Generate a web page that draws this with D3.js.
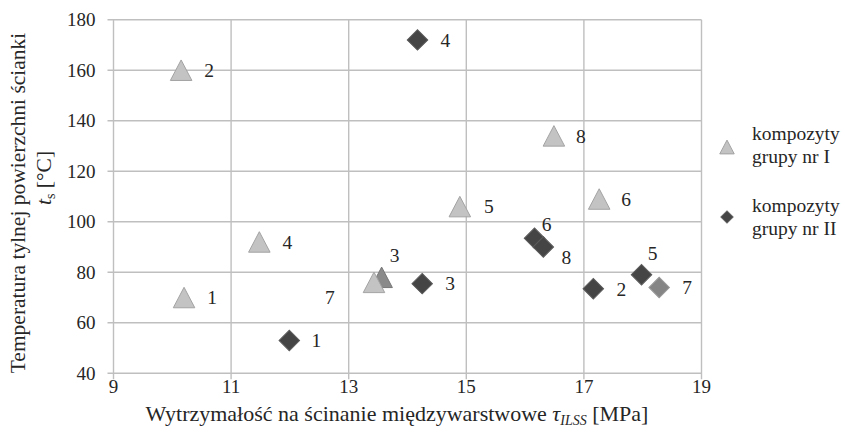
<!DOCTYPE html>
<html>
<head>
<meta charset="utf-8">
<script src="https://cdn.jsdelivr.net/npm/d3@7"></script>
<style>
  html, body { margin: 0; padding: 0; background: #fff; }
  svg { display: block; font-family: "Liberation Serif", "Times New Roman", serif; }
</style>
</head>
<body>
<svg id="chart" width="846" height="437"></svg>
<script>
// Shear strength (MPa) vs back-wall temperature (°C)
const groupIShear = [10.20, 10.15, 13.56, 11.48, 14.89, 17.26, 13.43, 16.49];
const groupITemp  = [70, 160, 78, 92, 106, 109, 76, 134];
const groupIIShear = [11.99, 17.16, 14.25, 14.17, 17.98, 16.16, 18.28, 16.31];
const groupIITemp  = [53, 73.5, 75.5, 172, 79, 93.5, 74, 90];
const pointLabels = ["1", "2", "3", "4", "5", "6", "7", "8"];
const xTicks = [9, 11, 13, 15, 17, 19];
const yTicks = [40, 60, 80, 100, 120, 140, 160, 180];
const legendLines = [["kompozyty", "grupy nr I"], ["kompozyty", "grupy nr II"]];

// label offsets (px) for each point label
const groupILabelOffset = [[28,0],[28,0],[13,-22],[28,0],[29,0],[27,0],[-44,15],[27,0]];
const groupIILabelOffset = [[27,0],[28,0],[28,0],[28,0],[11,-22],[12,-14],[28,0],[23,10]];

const svg = d3.select("#chart");
const x = d3.scaleLinear().domain([9, 19]).range([113.5, 701.5]);
const y = d3.scaleLinear().domain([40, 180]).range([373.3, 19.7]);

const gridColor = "#bfbfbf";
const textColor = "#262626";
const g = svg.append("g");

// grid lines
g.selectAll(".vgrid").data(xTicks).join("line")
  .attr("x1", d => x(d)).attr("x2", d => x(d))
  .attr("y1", y(180)).attr("y2", y(40) + 6)
  .attr("stroke", gridColor).attr("stroke-width", 1.4);
g.selectAll(".hgrid").data(yTicks).join("line")
  .attr("x1", x(9) - 6).attr("x2", x(19))
  .attr("y1", d => y(d)).attr("y2", d => y(d))
  .attr("stroke", gridColor).attr("stroke-width", 1.4);

// tick labels
g.selectAll(".ylab").data(yTicks).join("text")
  .attr("x", x(9) - 18).attr("y", d => y(d)).attr("dy", "0.35em")
  .attr("text-anchor", "end").attr("font-size", 19).attr("fill", textColor)
  .text(d => d);
g.selectAll(".xlab").data(xTicks).join("text")
  .attr("x", d => x(d)).attr("y", y(40) + 13).attr("dy", "0.35em")
  .attr("text-anchor", "middle").attr("font-size", 19).attr("fill", textColor)
  .text(d => d);

// axis titles
const xt = svg.append("text").attr("x", 397).attr("y", 421)
  .attr("text-anchor", "middle").attr("font-size", 22).attr("fill", textColor);
xt.append("tspan").text("Wytrzymałość na ścinanie międzywarstwowe ");
xt.append("tspan").attr("font-style", "italic").text("τ");
xt.append("tspan").attr("font-style", "italic").attr("font-size", 14).attr("dy", 4).text("ILSS");
xt.append("tspan").attr("dy", -4).text(" [MPa]");

svg.append("text").attr("transform", "translate(25,203) rotate(-90)")
  .attr("text-anchor", "middle").attr("font-size", 21.5).attr("fill", textColor)
  .text("Temperatura tylnej powierzchni ścianki");
const yt2 = svg.append("text").attr("transform", "translate(51,178) rotate(-90)")
  .attr("text-anchor", "middle").attr("font-size", 21.5).attr("fill", textColor);
yt2.append("tspan").attr("font-style", "italic").text("t");
yt2.append("tspan").attr("font-size", 14).attr("dy", 4).text("s");
yt2.append("tspan").attr("dy", -4).text(" [°C]");

// bounding-box centred triangle symbol
const boxTriangle = {
  draw(ctx, size) {
    const w = Math.sqrt(size) * 1.05, h = Math.sqrt(size);
    ctx.moveTo(0, -h / 2);
    ctx.lineTo(w / 2, h / 2);
    ctx.lineTo(-w / 2, h / 2);
    ctx.closePath();
  }
};
const triPath = d3.symbol(boxTriangle, 420)();
const diaPath = d3.symbol(d3.symbolSquare, 210)();

const groupI = groupIShear.map((v, i) => ({ x: v, y: groupITemp[i], label: pointLabels[i], off: groupILabelOffset[i] }));
const groupII = groupIIShear.map((v, i) => ({ x: v, y: groupIITemp[i], label: pointLabels[i], off: groupIILabelOffset[i] }));

const triFill = (d, i) => i === 2 ? "#8a8a8a" : "#c3c3c3";
const triStroke = (d, i) => i === 2 ? "#777" : "#a3a3a3";
const diaFill = (d, i) => i === 6 ? "#858585" : "#454545";
const diaStroke = (d, i) => i === 6 ? "#9a9a9a" : "#5c5c5c";

g.selectAll(".tri").data(groupI).join("path")
  .attr("d", triPath)
  .attr("transform", d => `translate(${x(d.x)},${y(d.y)})`)
  .attr("fill", triFill).attr("stroke", triStroke).attr("stroke-width", 1);

g.selectAll(".dia").data(groupII).join("path")
  .attr("d", diaPath)
  .attr("transform", d => `translate(${x(d.x)},${y(d.y)}) rotate(45)`)
  .attr("fill", diaFill).attr("stroke", diaStroke).attr("stroke-width", 1);

// point labels
g.selectAll(".lab").data(groupI.concat(groupII)).join("text")
  .attr("x", d => x(d.x) + d.off[0]).attr("y", d => y(d.y) + d.off[1])
  .attr("dy", "0.35em").attr("text-anchor", "middle")
  .attr("font-size", 19.5).attr("fill", textColor)
  .text(d => d.label);

// legend
const leg = svg.append("g");
leg.append("path").attr("d", d3.symbol(boxTriangle, 190)())
  .attr("transform", "translate(727,147)")
  .attr("fill", "#c3c3c3").attr("stroke", "#a3a3a3");
leg.append("path").attr("d", d3.symbol(d3.symbolSquare, 75)())
  .attr("transform", "translate(727,217) rotate(45)")
  .attr("fill", "#454545").attr("stroke", "#5c5c5c");
legendLines.forEach((lines, k) => {
  const t = leg.append("text").attr("x", 752).attr("y", 140 + k * 72)
    .attr("font-size", 19.5).attr("fill", textColor);
  lines.forEach((s, j) => t.append("tspan").attr("x", 752).attr("dy", j ? 23 : 0).text(s));
});
</script>
</body>
</html>
